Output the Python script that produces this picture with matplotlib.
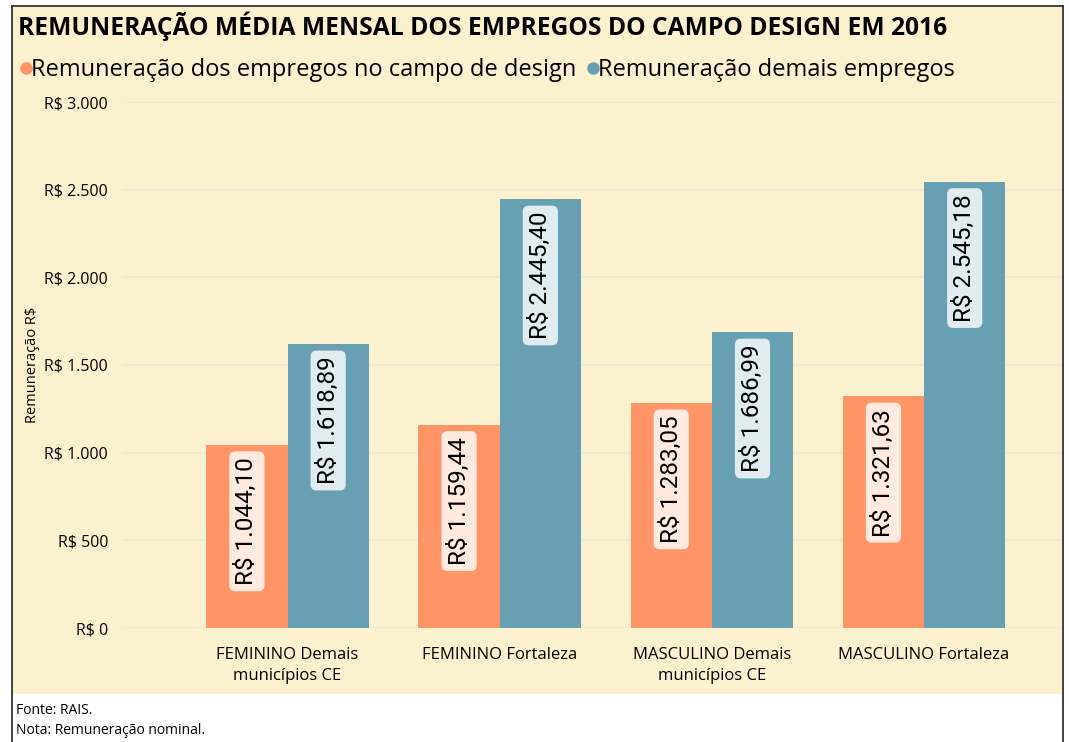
import matplotlib.pyplot as plt
from matplotlib.lines import Line2D
from matplotlib.patches import Rectangle
import numpy as np

# data
categories = ["FEMININO Demais\nmunicípios CE", "FEMININO Fortaleza",
              "MASCULINO Demais\nmunicípios CE", "MASCULINO Fortaleza"]
design = [1044.10, 1159.44, 1283.05, 1321.63]
demais = [1618.89, 2445.40, 1686.99, 2545.18]
series_names = ["Remuneração dos empregos no campo de design",
                "Remuneração demais empregos"]
yticks = [0, 500, 1000, 1500, 2000, 2500, 3000]

ORANGE = "#FF9566"
BLUE = "#66A0B2"
BG = "#FCF1CF"
GRID = "#EEE8D6"

W, H = 1069, 742


def brl(v, dec=2):
    s = f"{v:,.{dec}f}"
    return "R$ " + s.replace(",", "X").replace(".", ",").replace("X", ".")


fig = plt.figure(figsize=(W / 100, H / 100), dpi=100)
fig.patch.set_facecolor("white")

# yellow panel + frame
fig.patches.append(Rectangle((12 / W, 1 - 694 / H), 1050 / W, 687 / H,
                             transform=fig.transFigure, facecolor=BG,
                             edgecolor="none", zorder=-5))
for xs, ys in [([12, 1063], [6, 6]), ([12, 12], [6, 742]), ([1063, 1063], [6, 742])]:
    fig.lines.append(Line2D([x / W for x in xs], [1 - y / H for y in ys],
                            transform=fig.transFigure, color="#333333", lw=1.3,
                            zorder=-4))

ax = fig.add_axes([122 / W, 1 - 628 / H, (1062 - 122) / W, (628 - 102) / H])
ax.set_zorder(2)
ax.patch.set_alpha(0)

x = np.arange(len(categories))
bw = 0.383
b1 = ax.bar(x - bw / 2, design, bw, color=ORANGE, zorder=2)
b2 = ax.bar(x + bw / 2, demais, bw, color=BLUE, zorder=2)

for bars, vals, bgc in [(b1, design, "#FFEAE0"), (b2, demais, "#E0ECF0")]:
    for rect, v in zip(bars, vals):
        ax.annotate(brl(v), (rect.get_x() + rect.get_width() / 2, v),
                    xytext=(0, -9), textcoords="offset points",
                    rotation=90, ha="center", va="top", fontsize=17.5,
                    family="Roboto", color="black", zorder=3,
                    bbox=dict(boxstyle="round,pad=0.25", fc=bgc, ec="none"))

ax.set_ylim(0, 3000)
ax.set_xlim(-0.78, 3.65)
ax.set_yticks(yticks)
ax.set_yticklabels([brl(t, 0) for t in yticks], fontsize=11.5, family="Open Sans")
ax.set_xticks(x)
ax.set_xticklabels(categories, fontsize=12, family="Open Sans", linespacing=1.35)
ax.tick_params(length=0, pad=10)
ax.tick_params(axis="x", pad=14)
ax.yaxis.grid(True, color=GRID, lw=1.2, zorder=1)
for s in ax.spines.values():
    s.set_visible(False)

fig.text(33 / W, 1 - 365 / H, "Remuneração R$", rotation=90, ha="center",
         va="center", fontsize=10.5, family="Open Sans")

fig.text(18 / W, 1 - 26 / H, "REMUNERAÇÃO MÉDIA MENSAL DOS EMPREGOS DO CAMPO DESIGN EM 2016",
         ha="left", va="center", fontsize=17.7, fontweight="bold", family="Open Sans")

handles = [Line2D([], [], marker="o", ls="none", color=c, markersize=8)
           for c in (ORANGE, BLUE)]
leg = fig.legend(handles, series_names, loc="center left",
                 bbox_to_anchor=(17 / W, 1 - 70 / H), ncol=2, frameon=False,
                 borderaxespad=0, borderpad=0,
                 handletextpad=-0.2, columnspacing=0.3, handlelength=0.8,
                 prop={"family": "Open Sans", "size": 17})

fig.text(16 / W, 1 - 710 / H, "Fonte: RAIS.", fontsize=10, family="Open Sans", va="center")
fig.text(16 / W, 1 - 731 / H, "Nota: Remuneração nominal.", fontsize=10,
         family="Open Sans", va="center")

fig.savefig("out.png", dpi=100)
